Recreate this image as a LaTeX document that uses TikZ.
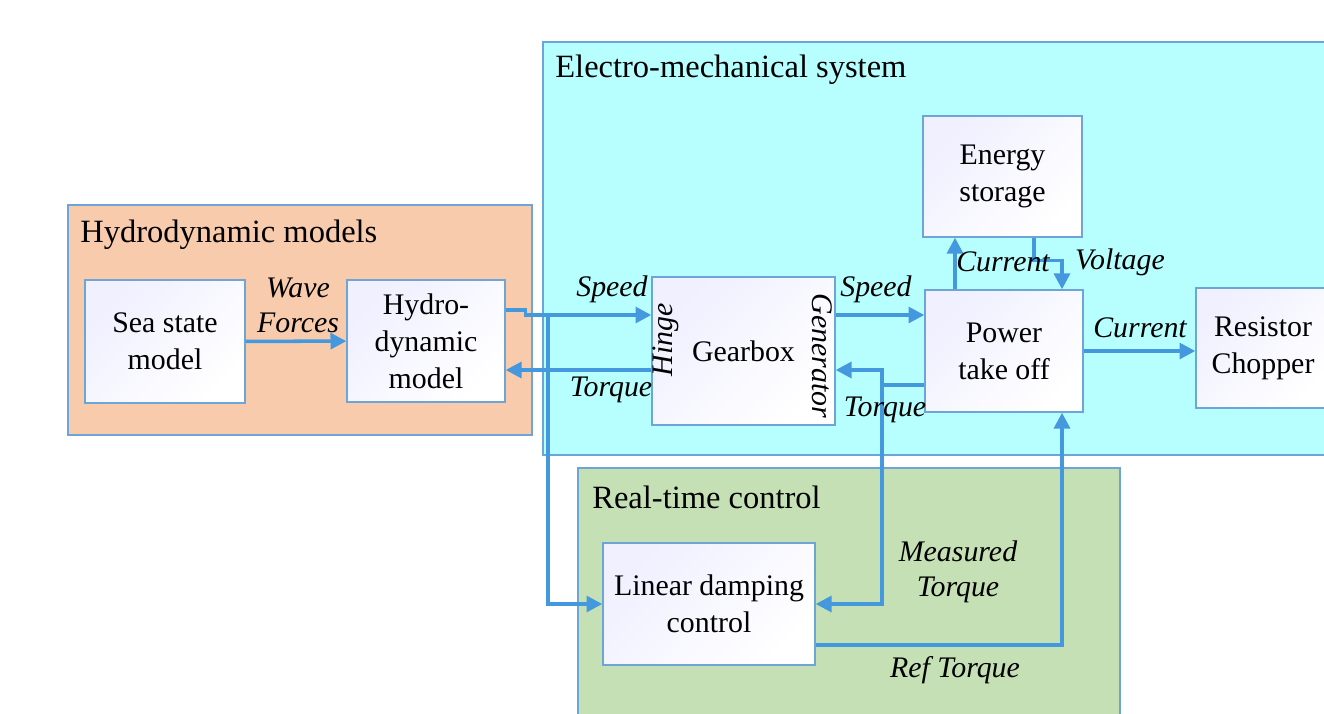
\documentclass[tikz,border=0pt]{standalone}
\usepackage{fontspec}
\setmainfont{Liberation Serif}
\usetikzlibrary{arrows.meta,positioning,calc}
\definecolor{FlowBlue}{RGB}{68,152,222}
\definecolor{EdgeBlue}{RGB}{110,165,215}
\definecolor{HydOrange}{RGB}{248,203,173}
\definecolor{EmCyan}{RGB}{183,255,255}
\definecolor{RtGreen}{RGB}{197,224,180}

\begin{document}
\begin{tikzpicture}[x=0.02cm,y=-0.02cm,
  grp/.style={draw=EdgeBlue,line width=0.8pt,inner sep=0pt},
  blk/.style={draw=EdgeBlue,line width=0.8pt,top color=blue!6,bottom color=white,
              shading angle=45,align=center,font=\fontsize{17}{21}\selectfont},
  ttl/.style={anchor=west,inner sep=0pt,font=\fontsize{18.5}{22}\selectfont},
  lbl/.style={align=center,inner sep=1pt,font=\fontsize{17}{20}\selectfont\itshape},
  flow/.style={draw=FlowBlue,line width=2pt,-{Triangle[length=9pt,width=9pt]}},
]
\useasboundingbox (0,0) rectangle (1324,713);
% groups
\node[grp,fill=HydOrange,minimum width=9.28cm,minimum height=4.6cm] (hydgrp) at (300,320) {};
\node[grp,fill=EmCyan,minimum width=15.74cm,minimum height=8.26cm] (emgrp) at (936.5,248.5) {};
\node[grp,fill=RtGreen,minimum width=10.84cm,minimum height=5.04cm] (rtgrp) at (849,594) {};
\node[ttl] (hydttl) at (80,235) {Hydrodynamic models};
\node[ttl] (emttl) at (555,70) {Electro-mechanical system};
\node[ttl] (rtttl) at (592,497) {Real-time control};
% blocks
\node[blk,minimum width=3.2cm,minimum height=2.46cm] (sea) at (165,341.5) {Sea state\\model};
\node[blk,minimum width=3.16cm,minimum height=2.44cm] (hydro) at (426,341) {Hydro-\\dynamic\\model};
\node[blk,minimum width=3.66cm,minimum height=2.96cm] (gear) at (743.5,351) {Gearbox};
\node[blk,minimum width=3.18cm,minimum height=2.42cm] (energy) at (1002.5,176.5) {Energy\\storage};
\node[blk,minimum width=3.16cm,minimum height=2.44cm] (pto) at (1004,351) {Power\\take off};
\node[blk,minimum width=2.68cm,minimum height=2.4cm] (chopper) at (1263,348) {Resistor\\Chopper};
\node[blk,minimum width=4.24cm,minimum height=2.44cm] (ctrl) at (709,604) {Linear damping\\control};
\node[rotate=90,font=\fontsize{17}{20}\selectfont\itshape] (hinge) at (666,340) {Hinge};
\node[rotate=-90,font=\fontsize{17}{20}\selectfont\itshape] (genr) at (822,356) {Generator};
% connectors
\coordinate (hydtap) at (548,315);
\coordinate (mtap) at (882,370);
\draw[flow] (sea) -- (hydro);
\draw[flow] ([yshift=0.62cm]hydro.east) -- ++(20,0) |- ([yshift=0.72cm]gear.west);
\draw[flow] ([yshift=-0.38cm]gear.west) -- ([yshift=-0.38cm]gear.west -| hydro.east);
\draw[flow] (hydtap) |- (ctrl.west);
\draw[flow] ([yshift=0.72cm]gear.east) -- ([yshift=0.72cm]gear.east -| pto.west);
\draw[flow] ([yshift=-0.68cm]pto.west) -| (mtap) -- (mtap -| gear.east);
\draw[flow] (mtap) |- (ctrl.east);
\draw[flow] ([yshift=-0.82cm]ctrl.east) -| ([xshift=1.16cm]pto.south);
\draw[flow] ([xshift=-0.98cm]pto.north) -- ([xshift=-0.98cm]pto.north |- energy.south);
\draw[flow] ([xshift=0.63cm]energy.south) -- ++(0,23) -| ([xshift=1.16cm]pto.north);
\draw[flow] (pto.east) -- (pto.east -| chopper.west);
% labels
\node[lbl] (wavelbl) at (298,305) {Wave\\Forces};
\node[lbl] (spd1lbl) at (612,289) {Speed};
\node[lbl] (trq1lbl) at (611,390) {Torque};
\node[lbl] (spd2lbl) at (876,289) {Speed};
\node[lbl] (trq2lbl) at (885,410) {Torque};
\node[lbl] (cur1lbl) at (1003,262) {Current};
\node[lbl] (voltlbl) at (1120,262) {Voltage};
\node[lbl] (cur2lbl) at (1140,328) {Current};
\node[lbl] (measlbl) at (958,572) {Measured\\Torque};
\node[lbl] (reflbl) at (955,670) {Ref Torque};
\end{tikzpicture}
\end{document}
